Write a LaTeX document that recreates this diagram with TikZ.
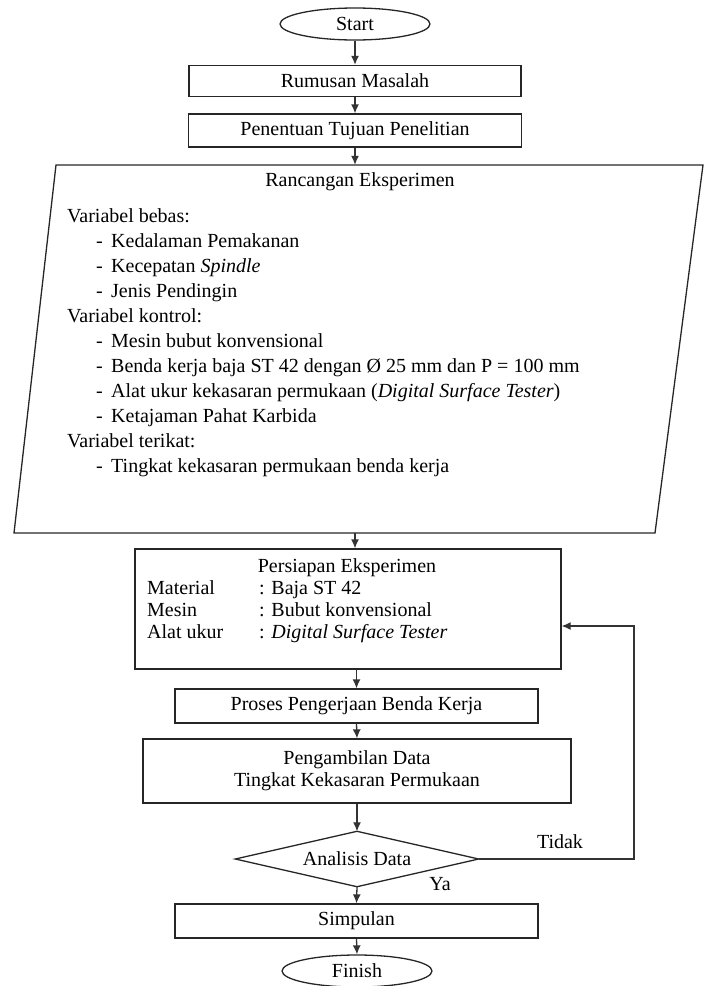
\documentclass[tikz,border=0pt]{standalone}
\usepackage{fontspec}
\setmainfont{Liberation Serif}
\usetikzlibrary{shapes.geometric,arrows.meta}
\begin{document}
\begin{tikzpicture}[x=1pt,y=-1pt,
  every node/.style={inner sep=0pt, font=\fontsize{20}{22}\selectfont},
  line/.style={draw=black!85, line width=1.3pt},
  box/.style={line, rectangle},
  term/.style={line, ellipse, minimum width=150pt, minimum height=32pt},
  arr/.style={draw=black!80, line width=1.3pt, -{Latex[length=9pt,width=8pt]}},
  txt/.style={anchor=base west},
  item/.style={anchor=base west}
]
\useasboundingbox (0,0) rectangle (707,986);

\node[term] (start) at (355,24) {Start};
\node[box, minimum width=332pt, minimum height=31pt] (rum) at (355,81) {Rumusan Masalah};
\node[box, minimum width=333pt, minimum height=33pt] (pen) at (355,130.5) {Penentuan Tujuan Penelitian};

% parallelogram
\node[minimum width=600pt, minimum height=368pt] (ranc) at (355,349) {};
\draw[line] (56,165) -- (703,165) -- (655,533) -- (14,533) -- cycle;
\node[anchor=base] (rt) at (360,186) {Rancangan Eksperimen};
\node[txt] (v1) at (67,222.5) {Variabel bebas:};
\node[item] (v2) at (96,247.5) {\makebox[15pt][l]{-}Kedalaman Pemakanan};
\node[item] (v3) at (96,272.5) {\makebox[15pt][l]{-}Kecepatan \textit{Spindle}};
\node[item] (v4) at (96,297.5) {\makebox[15pt][l]{-}Jenis Pendingin};
\node[txt] (v5) at (67,322.5) {Variabel kontrol:};
\node[item] (v6) at (96,347.5) {\makebox[15pt][l]{-}Mesin bubut konvensional};
\node[item] (v7) at (96,372.5) {\makebox[15pt][l]{-}Benda kerja baja ST 42 dengan Ø 25 mm dan P = 100 mm};
\node[item] (v8) at (96,397.5) {\makebox[15pt][l]{-}Alat ukur kekasaran permukaan (\textit{Digital Surface Tester})};
\node[item] (v9) at (96,422.5) {\makebox[15pt][l]{-}Ketajaman Pahat Karbida};
\node[txt] (v10) at (67,447.5) {Variabel terikat:};
\node[item] (v11) at (96,472.5) {\makebox[15pt][l]{-}Tingkat kekasaran permukaan benda kerja};

% persiapan
\node[box, minimum width=426pt, minimum height=120pt] (pers) at (348,609) {};
\node[anchor=base] (pt) at (347,572) {Persiapan Eksperimen};
\node[txt] (p1) at (147,594) {Material};
\node[txt] (p1c) at (259,594) {: Baja ST 42};
\node[txt] (p2) at (147,616) {Mesin};
\node[txt] (p2c) at (259,616) {: Bubut konvensional};
\node[txt] (p3) at (147,638) {Alat ukur};
\node[txt] (p3c) at (259,638) {: \textit{Digital Surface Tester}};

\node[box, minimum width=363pt, minimum height=34pt] (pros) at (356.5,706) {Proses Pengerjaan Benda Kerja};
\node[box, minimum width=428pt, minimum height=64pt, align=center] (peng) at (357,771) {Pengambilan Data\\Tingkat Kekasaran Permukaan};
% decision
\node[minimum width=243pt, minimum height=55pt] (dia) at (357,859) {Analisis Data};
\draw[line] (dia.north) -- (dia.east) -- (dia.south) -- (dia.west) -- cycle;
\node[box, minimum width=363pt, minimum height=34pt] (simp) at (356.5,921) {Simpulan};
\node[term] (fin) at (357,971) {Finish};

\node[anchor=base] (tidak) at (560,848) {Tidak};
\node[anchor=base] (ya) at (440,890) {Ya};

% connectors
\draw[arr] (start.south) -- (rum.north);
\draw[arr] (rum.south) -- (pen.north);
\draw[arr] (pen.south) -- (ranc.north);
\draw[arr] (ranc.south) -- (ranc.south |- pers.north);
\draw[arr] (pros.north |- pers.south) -- (pros.north);
\draw[arr] (pros.south) -- (peng.north);
\draw[arr] (peng.south) -- (dia.north);
\draw[arr] (dia.south) -- (simp.north);
\draw[arr] (simp.south) -- (fin.north);
\coordinate (lc) at (634,626);
\draw[arr] (dia.east) -| (lc) -- (pers.east |- lc);
\end{tikzpicture}
\end{document}
